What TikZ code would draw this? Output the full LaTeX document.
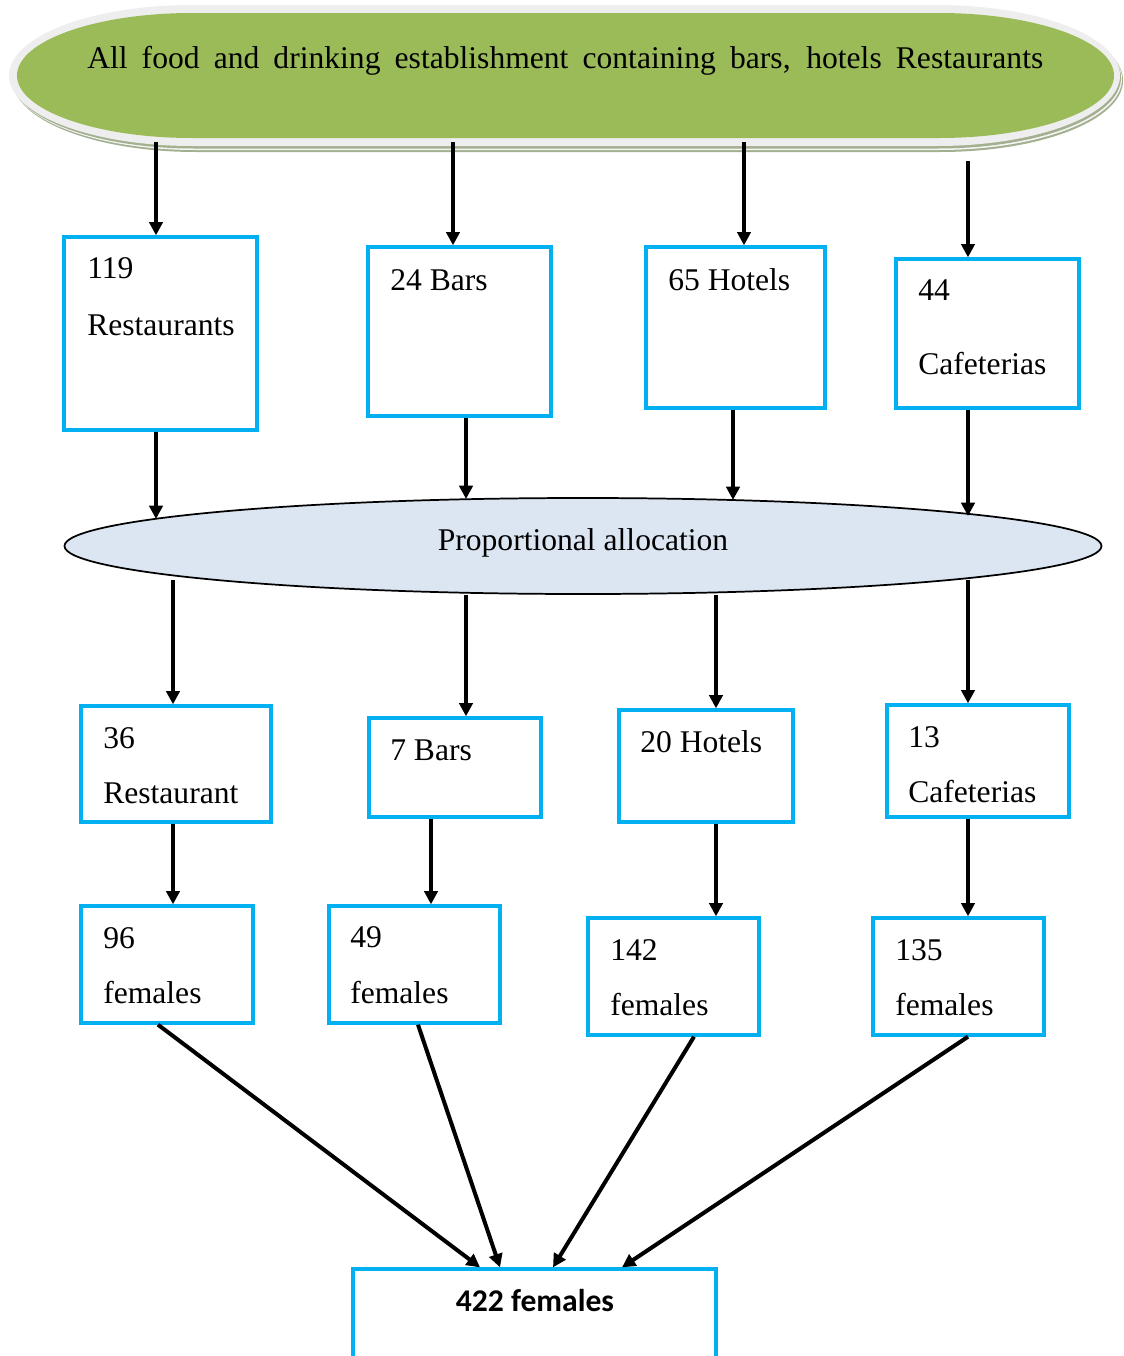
\documentclass[tikz,border=0pt]{standalone}
\usepackage{fontspec}
\setmainfont{Liberation Serif}
\newfontfamily\calibrifont{Carlito}
\usetikzlibrary{arrows.meta,shapes.geometric,fit,calc}
\definecolor{bannergreen}{HTML}{9BBB59}
\definecolor{boxcyan}{HTML}{00B0F0}
\definecolor{allocfill}{HTML}{DCE6F2}
\definecolor{shadowgreen}{HTML}{A3B08F}
\definecolor{bandgray}{HTML}{EEEEEE}
\newcommand\stadiumpath[5]{(#1+#5,#2) -- (#3-#5,#2) arc[start angle=90,end angle=-90,x radius=#5*0.75pt,y radius=(#4-#2)*0.375pt] -- (#1+#5,#4) arc[start angle=270,end angle=90,x radius=#5*0.75pt,y radius=(#4-#2)*0.375pt] -- cycle}
\tikzset{
  boxnode/.style={draw=boxcyan, line width=2.5pt, fill=white, inner sep=0pt},
  arr/.style={-{Triangle[length=10pt,width=10pt]}, line width=3pt},
  txt/.style={anchor=base west, inner sep=0pt, font=\fontsize{23.7}{28}\selectfont},
}
\begin{document}
\begin{tikzpicture}[x=0.75pt,y=-0.75pt]
\useasboundingbox (0,0) rectangle (1124,1356);
% banner
\fill[shadowgreen] \stadiumpath{13}{9}{1123}{152}{183};
\fill[bandgray!60] \stadiumpath{12}{8}{1122}{150}{183};
\fill[shadowgreen] \stadiumpath{11}{7}{1121}{148.5}{183};
\fill[bandgray] \stadiumpath{9}{5}{1120}{146}{183};
\fill[bannergreen] \stadiumpath{17}{13}{1114}{138}{175};
\node[fit={(17,13) (1114,142)}, inner sep=0pt] (banner) {};
\node[txt] (bannertext) at (87,68) {\makebox[717pt][s]{All food and drinking establishment containing bars, hotels Restaurants}};
% first row
\node[boxnode, fit={(64,237) (257,430)}] (b1) {};
\node[boxnode, fit={(368,247) (551,416)}] (b2) {};
\node[boxnode, fit={(646,247) (825,408)}] (b3) {};
\node[boxnode, fit={(896,259) (1079,408)}] (b4) {};
\node[txt] (b1a) at (87,278) {119};
\node[txt] (b1b) at (87,335) {Restaurants};
\node[txt] (b2a) at (390,290) {24 Bars};
\node[txt] (b3a) at (668,290) {65 Hotels};
\node[txt] (b4a) at (918,300) {44};
\node[txt] (b4b) at (918,374) {Cafeterias};
% allocation
\node[ellipse, draw, line width=1.3pt, fill=allocfill, minimum width=1037*0.75pt, minimum height=96*0.75pt, inner sep=0pt] (alloc) at (583,546) {};
\node[txt, anchor=base] (alloctext) at (583,550) {Proportional allocation};
% second row
\node[boxnode, fit={(81,706) (271,822)}] (m1) {};
\node[boxnode, fit={(369,718) (541,817)}] (m2) {};
\node[boxnode, fit={(619,710) (793,822)}] (m3) {};
\node[boxnode, fit={(887,705) (1069,817)}] (m4) {};
\node[txt] (m1a) at (103,748) {36};
\node[txt] (m1b) at (103,803) {Restaurant};
\node[txt] (m2a) at (390,760) {7 Bars};
\node[txt] (m3a) at (640,752) {20 Hotels};
\node[txt] (m4a) at (908,747) {13};
\node[txt] (m4b) at (908,802) {Cafeterias};
% third row
\node[boxnode, fit={(81,906) (253,1023)}] (c1) {};
\node[boxnode, fit={(329,906) (500,1023)}] (c2) {};
\node[boxnode, fit={(588,918) (759,1035)}] (c3) {};
\node[boxnode, fit={(873,918) (1044,1035)}] (c4) {};
\node[txt] (c1a) at (103,948) {96};
\node[txt] (c1b) at (103,1003) {females};
\node[txt] (c2a) at (350,947) {49};
\node[txt] (c2b) at (350,1003) {females};
\node[txt] (c3a) at (610,960) {142};
\node[txt] (c3b) at (610,1015) {females};
\node[txt] (c4a) at (895,960) {135};
\node[txt] (c4b) at (895,1015) {females};
% final
\node[boxnode, fit={(353,1269) (716,1362)}] (fin) {};
\node[anchor=base, inner sep=0pt, font=\calibrifont\bfseries\fontsize{23.7}{28}\selectfont] (fintext) at (535,1311) {422 females};
% helper x coordinates
\coordinate (xa1) at (156,0);
\coordinate (xa2) at (453,0);
\coordinate (xa3) at (744,0);
\coordinate (xa4) at (968,0);
\coordinate (xb1) at (156,0);
\coordinate (xb2) at (466,0);
\coordinate (xb3) at (733,0);
\coordinate (xb4) at (968,0);
\coordinate (xc1) at (173,0);
\coordinate (xc2) at (466,0);
\coordinate (xc3) at (716,0);
\coordinate (xc4) at (968,0);
\coordinate (xd2) at (431,0);
% ellipse boundary points
\coordinate (e1) at (156,519);
\coordinate (e2) at (466,499);
\coordinate (e3) at (733,500);
\coordinate (e4) at (968,516);
\coordinate (g1) at (173,580);
\coordinate (g4) at (968,580);
% arrows banner -> first row
\draw[arr] (banner.south -| xa1) -- (b1.north -| xa1);
\draw[arr] (banner.south -| xa2) -- (b2.north -| xa2);
\draw[arr] (banner.south -| xa3) -- (b3.north -| xa3);
\draw[arr] ($(banner.south -| xa4)+(0,19)$) -- (b4.north -| xa4);
% first row -> allocation
\draw[arr] (b1.south -| xb1) -- (e1);
\draw[arr] (b2.south -| xb2) -- (e2);
\draw[arr] (b3.south -| xb3) -- (e3);
\draw[arr] (b4.south -| xb4) -- (e4);
% allocation -> second row
\draw[arr] (g1) -- (m1.north -| xc1);
\draw[arr] (alloc.south -| xc2) -- (m2.north -| xc2);
\draw[arr] (alloc.south -| xc3) -- (m3.north -| xc3);
\draw[arr] (g4) -- (m4.north -| xc4);
% second -> third
\draw[arr] (m1.south -| xc1) -- (c1.north -| xc1);
\draw[arr] (m2.south -| xd2) -- (c2.north -| xd2);
\draw[arr] (m3.south -| xc3) -- (c3.north -| xc3);
\draw[arr] (m4.south -| xc4) -- (c4.north -| xc4);
% third -> final
\coordinate (s1) at (158,0);
\coordinate (s2) at (418,0);
\coordinate (s3) at (694,0);
\coordinate (s4) at (968,0);
\coordinate (t1) at (480,0);
\coordinate (t2) at (500,0);
\coordinate (t3) at (553,0);
\coordinate (t4) at (622,0);
\draw[arr] (c1.south -| s1) -- (fin.north -| t1);
\draw[arr] (c2.south -| s2) -- (fin.north -| t2);
\draw[arr] (c3.south -| s3) -- (fin.north -| t3);
\draw[arr] (c4.south -| s4) -- (fin.north -| t4);
\end{tikzpicture}
\end{document}
